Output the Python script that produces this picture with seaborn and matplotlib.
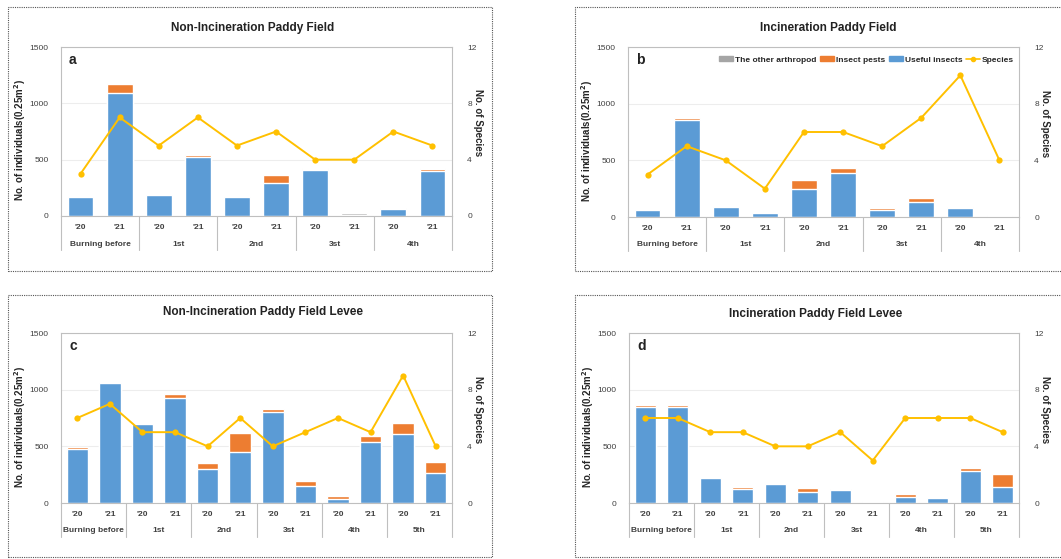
import numpy as np
import pandas as pd
import matplotlib.pyplot as plt
import matplotlib.transforms as mtransforms
from matplotlib.patches import Rectangle, Patch
from matplotlib.lines import Line2D
import seaborn as sns

sns.set_style('white')
plt.rcParams['font.family'] = ['Liberation Sans', 'DejaVu Sans']

# --- data ---
years = ["'20", "'21"]
groups_field = ['Burning before', '1st', '2nd', '3st', '4th']
groups_levee = ['Burning before', '1st', '2nd', '3st', '4th', '5th']

# a: Non-Incineration Paddy Field
useful_a = [165, 1090, 185, 525, 168, 290, 405, 10, 60, 400]
pests_a = [0, 85, 0, 18, 0, 75, 8, 0, 12, 18]
other_a = [0, 5, 0, 4, 0, 0, 16, 14, 2, 12]
species_a = [3, 7, 5, 7, 5, 6, 4, 4, 6, 5]

# b: Incineration Paddy Field
useful_b = [58, 855, 85, 38, 248, 390, 65, 130, 77, 10]
pests_b = [0, 15, 0, 0, 80, 45, 15, 40, 14, 0]
other_b = [0, 0, 0, 0, 0, 0, 0, 0, 0, 5]
species_b = [3, 5, 4, 2, 6, 6, 5, 7, 10, 4]

# c: Non-Incineration Paddy Field Levee
useful_c = [480, 1060, 700, 925, 303, 453, 806, 147, 32, 538, 612, 265]
pests_c = [10, 0, 0, 35, 47, 168, 20, 47, 30, 53, 91, 97]
other_c = [0, 0, 0, 0, 0, 0, 0, 0, 0, 0, 0, 0]
species_c = [6, 7, 5, 5, 4, 6, 4, 5, 6, 5, 9, 4]

# d: Incineration Paddy Field Levee
useful_d = [850, 850, 224, 121, 165, 94, 112, 5, 53, 47, 283, 142]
pests_d = [18, 12, 0, 18, 0, 36, 12, 8, 24, 0, 25, 112]
other_d = [0, 0, 0, 0, 0, 0, 0, 2, 0, 0, 14, 0]
species_d = [6, 6, 5, 5, 4, 4, 5, 3, 6, 6, 6, 5]

C_BLUE = '#5B9BD5'
C_ORANGE = '#ED7D31'
C_GREY = '#A5A5A5'
C_GOLD = '#FFC000'
C_AXIS = '#BFBFBF'

W, H = 1061, 559
fig = plt.figure(figsize=(W / 100, H / 100), dpi=100)


def px_rect(x0, y0, x1, y1):
    # pixel box (top-left origin) -> figure fraction [l, b, w, h]
    return [x0 / W, 1 - y1 / H, (x1 - x0) / W, (y1 - y0) / H]


def panel(rect_px, box_px, title, title_px, letter, groups, useful, pests, other, species, legend=False):
    # dotted frame around panel
    bx = px_rect(*box_px)
    fig.patches.append(Rectangle((bx[0], bx[1]), bx[2], bx[3], transform=fig.transFigure,
                                 fill=False, ec='#555555', lw=0.8, ls=(0, (1, 1))))
    fig.text(title_px[0] / W, 1 - title_px[1] / H, title, ha='center', va='center',
             fontsize=8.5, fontweight='bold', color='#222222')

    ax = fig.add_axes(px_rect(*rect_px))
    n = len(useful)
    pos = np.arange(n)
    wid = rect_px[2] - rect_px[0]
    hgt = rect_px[3] - rect_px[1]
    df = pd.DataFrame({'pos': pos, 'useful': useful, 'pests': pests, 'other': other})
    df['up'] = df['useful'] + df['pests']
    df['total'] = df['up'] + df['other']

    # stacked bars drawn back to front
    sns.barplot(data=df, x='pos', y='total', color=C_GREY, saturation=1, width=0.66, ax=ax)
    sns.barplot(data=df, x='pos', y='up', color=C_ORANGE, saturation=1, width=0.66, ax=ax)
    sns.barplot(data=df, x='pos', y='useful', color=C_BLUE, saturation=1, width=0.66, ax=ax)

    ax.set_ylim(0, 1500)
    ax.set_yticks([0, 500, 1000, 1500])
    ax.yaxis.grid(True, color='#EDEDED', lw=0.8)
    ax.set_axisbelow(True)
    for s in ax.spines.values():
        s.set_color(C_AXIS)
        s.set_linewidth(0.8)
    ax.tick_params(axis='y', length=0, labelsize=6, labelcolor='#404040', pad=9)
    ax.set_xticks(pos)
    ax.set_xticklabels(years * (n // 2), fontsize=6, fontweight='bold', color='#404040')
    ax.tick_params(axis='x', length=0, pad=6)
    ax.set_xlabel('')
    ax.set_ylabel('No. of individuals(0.25m$^\\mathbf{2}$)', fontsize=7, fontweight='bold')
    ax.yaxis.set_label_coords(-33 / wid, 0.45)

    # group labels + separators below axis
    trans = mtransforms.blended_transform_factory(ax.transData, ax.transAxes)
    for i, g in enumerate(groups):
        ax.text(2 * i + 0.5, -28 / hgt, g, transform=trans, ha='center', va='center',
                fontsize=6, fontweight='bold', color='#404040')
    for xb in np.arange(-0.5, n, 2):
        ax.plot([xb, xb], [0, -34 / hgt], transform=trans, color=C_AXIS, lw=0.8, clip_on=False)

    ax.text(8 / wid, 1 - 13 / hgt, letter, transform=ax.transAxes,
            fontsize=10, fontweight='bold', ha='left', va='center', color='#222222')

    ax2 = ax.twinx()
    sns.lineplot(x=pos, y=species, color=C_GOLD, marker='o', markersize=4.5, markeredgewidth=0,
                 lw=1.4, ax=ax2)
    ax2.set_ylim(0, 12)
    ax2.set_yticks([0, 4, 8, 12])
    ax2.tick_params(axis='y', length=0, labelsize=6, labelcolor='#404040', pad=11)
    for s in ax2.spines.values():
        s.set_visible(False)
    ax2.set_ylabel('No. of Species', fontsize=7, fontweight='bold', rotation=270, va='center')
    ax2.yaxis.set_label_coords(1 + 26 / wid, 0.55)
    ax.set_xlim(-0.5, n - 0.5)

    if legend:
        handles = [Patch(color=C_GREY, label='The other arthropod'),
                   Patch(color=C_ORANGE, label='Insect pests'),
                   Patch(color=C_BLUE, label='Useful insects'),
                   Line2D([], [], color=C_GOLD, marker='o', markersize=3, lw=1.2, label='Species')]
        ax2.legend(handles=handles, ncol=4, loc='upper right', bbox_to_anchor=(1.0, 0.975),
                   frameon=False, prop={'size': 6, 'weight': 'bold'}, handlelength=1.6,
                   handleheight=0.5, handletextpad=0.25, columnspacing=0.5, borderaxespad=0.2)
    return ax


panel((61, 47, 452, 216), (8, 7, 492, 271), 'Non-Incineration Paddy Field', (253, 28), 'a',
      groups_field, useful_a, pests_a, other_a, species_a)
panel((628, 47, 1019, 217), (575, 7, 1068, 271), 'Incineration Paddy Field', (828, 28), 'b',
      groups_field, useful_b, pests_b, other_b, species_b, legend=True)
panel((61, 333, 452, 503), (8, 295, 492, 557), 'Non-Incineration Paddy Field Levee', (263, 312), 'c',
      groups_levee, useful_c, pests_c, other_c, species_c)
panel((629, 333, 1019, 503), (575, 295, 1068, 557), 'Incineration Paddy Field Levee', (816, 314), 'd',
      groups_levee, useful_d, pests_d, other_d, species_d)

fig.savefig('out.png', dpi=100)
